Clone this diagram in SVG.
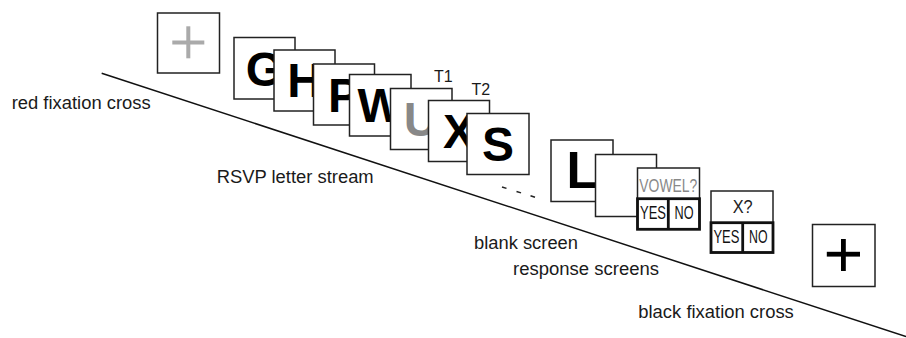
<svg xmlns="http://www.w3.org/2000/svg" width="906" height="338" viewBox="0 0 906 338">
<style>
.box{fill:#fff;stroke:#222;stroke-width:1.5}
.lt{font-family:"Liberation Sans",Arial,sans-serif;font-weight:bold;font-size:48px;fill:#000;text-anchor:middle}
.lbl{font-family:"Liberation Sans",Arial,sans-serif;font-size:17.5px;fill:#1a1a1a}
.t{font-family:"Liberation Sans",Arial,sans-serif;font-size:16px;fill:#1a1a1a;text-anchor:middle}
.rs{font-family:"Liberation Sans",Arial,sans-serif;font-size:17.5px;text-anchor:middle}
.cell{fill:none;stroke:#111;stroke-width:2.8}
</style>
<rect width="906" height="338" fill="#fff"/>
<g id="connectors">
<line x1="101.7" y1="73.3" x2="906" y2="336.6" stroke="#111" stroke-width="1.5"/>
</g>
<g id="red-fixation">
<rect class="box" x="157.5" y="13" width="62" height="60"/>
<rect x="172.3" y="40.5" width="32" height="4" fill="#aaa"/>
<rect x="186.3" y="26.3" width="4" height="32" fill="#aaa"/>
</g>
<g id="letter-G"><rect class="box" x="234" y="37.5" width="61" height="61.5"/><text class="lt" x="264.5" y="85.5">G</text></g>
<g id="letter-H"><rect class="box" x="274" y="50" width="61" height="61"/><text class="lt" x="304.5" y="97.3">H</text></g>
<g id="letter-P"><rect class="box" x="313.5" y="64" width="61" height="61"/><text class="lt" x="344" y="111.5">P</text></g>
<g id="letter-W"><rect class="box" x="349.5" y="74.5" width="61.5" height="61.5"/><text class="lt" x="380.2" y="122.3">W</text></g>
<g id="letter-U"><rect class="box" x="390.5" y="88.5" width="61.5" height="61"/><text class="lt" x="421.2" y="135.8" style="fill:#888">U</text></g>
<g id="letter-X"><rect class="box" x="428.5" y="100.5" width="61" height="61"/><text class="lt" x="459" y="147.7">X</text></g>
<g id="letter-S"><rect class="box" x="467" y="113.5" width="62" height="61"/><text class="lt" x="498" y="161">S</text></g>
<g id="t-labels"><text class="t" x="443.3" y="82.3">T1</text><text class="t" x="480.8" y="95">T2</text></g>
<g id="ellipsis" stroke="#222" stroke-width="1.5">
<line x1="502" y1="187" x2="506.5" y2="188.4"/>
<line x1="516.5" y1="191.5" x2="521" y2="192.9"/>
<line x1="530.5" y1="195.8" x2="535" y2="197.2"/>
</g>
<g id="letter-L"><rect class="box" x="551" y="140" width="62" height="61.5"/><text class="lt" x="582" y="188.3" style="font-size:51px">L</text></g>
<g id="blank-screen"><rect class="box" x="595.5" y="154.5" width="61" height="62"/></g>
<g id="vowel-response">
<rect class="box" x="637.5" y="168" width="62" height="61"/>
<text class="rs" x="668.3" y="191.7" fill="#888" textLength="58" lengthAdjust="spacingAndGlyphs">VOWEL?</text>
<rect class="cell" x="637.5" y="198.7" width="62" height="30.6"/>
<line class="cell" x1="668.3" y1="198.7" x2="668.3" y2="229.3"/>
<text class="rs" x="653" y="218.7" fill="#111" textLength="26" lengthAdjust="spacingAndGlyphs">YES</text>
<text class="rs" x="684" y="218.7" fill="#111" textLength="19" lengthAdjust="spacingAndGlyphs">NO</text>
</g>
<g id="x-response">
<rect class="box" x="711" y="191" width="62" height="61.5"/>
<text class="rs" x="742.7" y="213.3" fill="#222" textLength="20" lengthAdjust="spacingAndGlyphs">X?</text>
<rect class="cell" x="711" y="222.7" width="62" height="29.8"/>
<line class="cell" x1="742.7" y1="222.7" x2="742.7" y2="252.5"/>
<text class="rs" x="726.4" y="243.3" fill="#111" textLength="26" lengthAdjust="spacingAndGlyphs">YES</text>
<text class="rs" x="758.3" y="243.3" fill="#111" textLength="18.5" lengthAdjust="spacingAndGlyphs">NO</text>
</g>
<g id="black-fixation">
<rect class="box" x="812.5" y="224.5" width="62.5" height="62"/>
<rect x="826.8" y="251.8" width="33.2" height="4.8" fill="#000"/>
<rect x="841" y="239" width="4.8" height="32" fill="#000"/>
</g>
<g id="labels">
<text class="lbl" x="11.7" y="109" textLength="139" lengthAdjust="spacingAndGlyphs">red fixation cross</text>
<text class="lbl" x="216.7" y="182.5" textLength="157" lengthAdjust="spacingAndGlyphs">RSVP letter stream</text>
<text class="lbl" x="474" y="248.5" textLength="104" lengthAdjust="spacingAndGlyphs">blank screen</text>
<text class="lbl" x="513" y="275" textLength="146" lengthAdjust="spacingAndGlyphs">response screens</text>
<text class="lbl" x="638.3" y="318.3" textLength="155.5" lengthAdjust="spacingAndGlyphs">black fixation cross</text>
</g>
</svg>
